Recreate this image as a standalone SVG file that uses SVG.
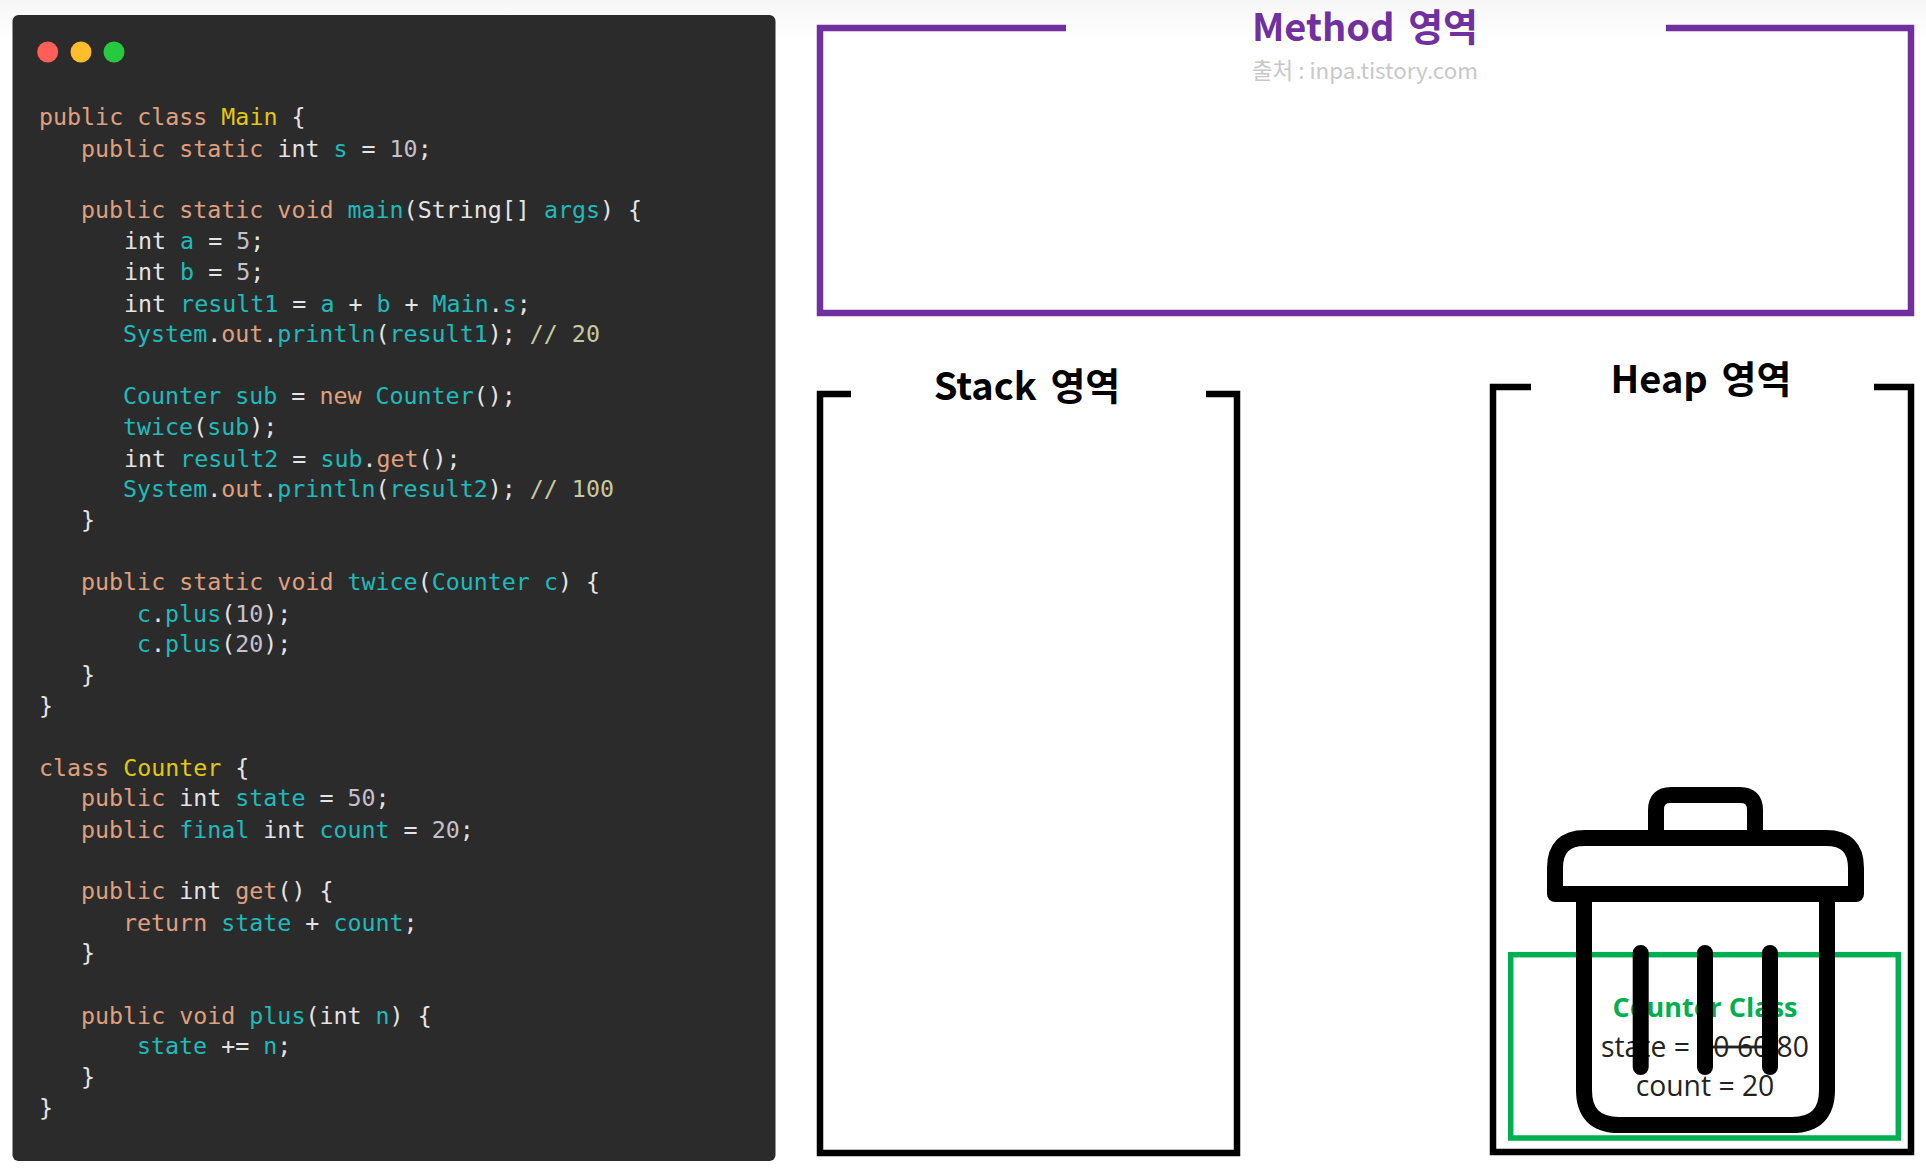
<svg xmlns="http://www.w3.org/2000/svg" width="1926" height="1172" viewBox="0 0 1926 1172">
<style>
.code{font-family:"DejaVu Sans Mono","Liberation Mono",monospace;font-size:23.3px;fill:#e4e4e4;white-space:pre}
.k{fill:#e0a07e}.y{fill:#e3c812}.c{fill:#1cbcbc}.n{fill:#c6c0cc}.g{fill:#c9c9a0}
.title{font-family:"Noto Sans CJK KR","Noto Sans",sans-serif;font-weight:700;font-size:38px;word-spacing:5px;text-anchor:middle}
.frame{fill:none;stroke-width:6.5}
.bin{fill:none;stroke:#000;stroke-width:16;stroke-linecap:round;stroke-linejoin:round}
.obj{font-family:"Open Sans","Noto Sans",sans-serif;font-size:28.3px;fill:#222;text-anchor:middle}
</style>
<defs>
<linearGradient id="fade" x1="0" y1="0" x2="0" y2="1"><stop offset="0" stop-color="#f6f6f6"/><stop offset="1" stop-color="#fff"/></linearGradient>
</defs>
<rect width="1926" height="1172" fill="#fff"/>
<rect width="1926" height="40" fill="url(#fade)"/>
<g id="code-panel">
<rect x="12.5" y="15" width="763" height="1146" rx="6" fill="#2b2b2b"/>
<circle cx="47.7" cy="52" r="10.5" fill="#ff5f56"/>
<circle cx="81" cy="52" r="10.5" fill="#ffbd2e"/>
<circle cx="114" cy="52" r="10.5" fill="#27c93f"/>
<text class="code" x="39" y="125"><tspan class="k">public class </tspan><tspan class="y">Main</tspan> {</text>
<text class="code" x="81" y="157"><tspan class="k">public static </tspan>int <tspan class="c">s</tspan> = <tspan class="n">10</tspan>;</text>
<text class="code" x="81" y="218"><tspan class="k">public static void </tspan><tspan class="c">main</tspan>(String[] <tspan class="c">args</tspan>) {</text>
<text class="code" x="124" y="249">int <tspan class="c">a</tspan> = <tspan class="n">5</tspan>;</text>
<text class="code" x="124" y="280">int <tspan class="c">b</tspan> = <tspan class="n">5</tspan>;</text>
<text class="code" x="124" y="312">int <tspan class="c">result1</tspan> = <tspan class="c">a</tspan> + <tspan class="c">b</tspan> + <tspan class="c">Main</tspan>.<tspan class="c">s</tspan>;</text>
<text class="code" x="123" y="342"><tspan class="c">System</tspan>.<tspan class="k">out</tspan>.<tspan class="c">println</tspan>(<tspan class="c">result1</tspan>); <tspan class="g">// 20</tspan></text>
<text class="code" x="123" y="404"><tspan class="c">Counter sub</tspan> = <tspan class="k">new </tspan><tspan class="c">Counter</tspan>();</text>
<text class="code" x="123" y="435"><tspan class="c">twice</tspan>(<tspan class="c">sub</tspan>);</text>
<text class="code" x="124" y="467">int <tspan class="c">result2</tspan> = <tspan class="c">sub</tspan>.<tspan class="k">get</tspan>();</text>
<text class="code" x="123" y="497"><tspan class="c">System</tspan>.<tspan class="k">out</tspan>.<tspan class="c">println</tspan>(<tspan class="c">result2</tspan>); <tspan class="g">// 100</tspan></text>
<text class="code" x="81" y="528">}</text>
<text class="code" x="81" y="590"><tspan class="k">public static void </tspan><tspan class="c">twice</tspan>(<tspan class="c">Counter c</tspan>) {</text>
<text class="code" x="137" y="622"><tspan class="c">c</tspan>.<tspan class="c">plus</tspan>(<tspan class="n">10</tspan>);</text>
<text class="code" x="137" y="652"><tspan class="c">c</tspan>.<tspan class="c">plus</tspan>(<tspan class="n">20</tspan>);</text>
<text class="code" x="81" y="683">}</text>
<text class="code" x="39" y="714">}</text>
<text class="code" x="39" y="776"><tspan class="k">class </tspan><tspan class="y">Counter</tspan> {</text>
<text class="code" x="81" y="806"><tspan class="k">public </tspan>int <tspan class="c">state</tspan> = <tspan class="n">50</tspan>;</text>
<text class="code" x="81" y="838"><tspan class="k">public </tspan><tspan class="c">final </tspan>int <tspan class="c">count</tspan> = <tspan class="n">20</tspan>;</text>
<text class="code" x="81" y="899"><tspan class="k">public </tspan>int <tspan class="k">get</tspan>() {</text>
<text class="code" x="123" y="931"><tspan class="k">return </tspan><tspan class="c">state</tspan> + <tspan class="c">count</tspan>;</text>
<text class="code" x="81" y="961">}</text>
<text class="code" x="81" y="1024"><tspan class="k">public void </tspan><tspan class="c">plus</tspan>(int <tspan class="c">n</tspan>) {</text>
<text class="code" x="137" y="1054"><tspan class="c">state</tspan> += <tspan class="c">n</tspan>;</text>
<text class="code" x="81" y="1085">}</text>
<text class="code" x="39" y="1116">}</text>
</g>
<g id="method-area">
<path class="frame" d="M1066 28H820V313H1911V28H1666" stroke="#7030a0"/>
<text class="title" x="1365" y="41" fill="#7030a0">Method 영역</text>
<text x="1365" y="79" text-anchor="middle" font-family="'Noto Sans CJK KR','Noto Sans',sans-serif" font-size="22.4" fill="#c8c8c8">출처 : inpa.tistory.com</text>
</g>
<g id="stack-area">
<path class="frame" d="M851 394H820V1153H1237V394H1206" stroke="#000"/>
<text class="title" x="1027" y="400" fill="#000">Stack 영역</text>
</g>
<g id="heap-area">
<path class="frame" d="M1531 387H1493V1152H1911V387H1874" stroke="#000"/>
<text class="title" x="1701" y="393" fill="#000">Heap 영역</text>
<g id="counter-object">
<rect x="1510.7" y="954.7" width="387.6" height="183.3" fill="none" stroke="#00b050" stroke-width="5.5"/>
<text class="obj" x="1705" y="1017" font-weight="700" style="fill:#00b050;font-size:27px">Counter Class</text>
<text class="obj" x="1705" y="1057">state = <tspan text-decoration="line-through">50 60</tspan> 80</text>
<text class="obj" x="1705" y="1096">count = 20</text>
</g>
<g id="trash-bin">
<path class="bin" d="M1656 838V810Q1656 795 1671 795H1740Q1755 795 1755 810V838"/>
<path class="bin" d="M1555 894V868Q1555 838 1585 838H1826Q1856 838 1856 868V894Z"/>
<path class="bin" d="M1584 894V1090Q1584 1125 1619 1125H1792Q1827 1125 1827 1090V894"/>
<path class="bin" d="M1640.7 953V1067M1705 953V1067M1770 953V1067"/>
</g>
</g>
</svg>
